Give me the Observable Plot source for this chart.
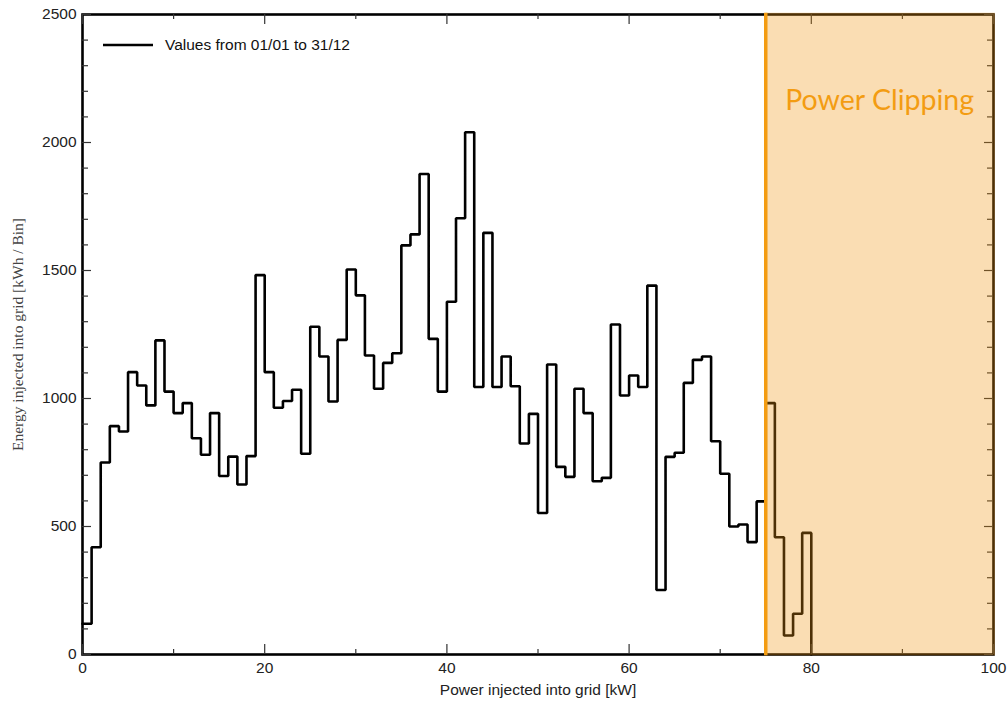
<!DOCTYPE html>
<html>
<head>
<meta charset="utf-8">
<script src="https://cdn.jsdelivr.net/npm/d3@7"></script>
<script src="https://cdn.jsdelivr.net/npm/@observablehq/plot@0.6"></script>
<style>
  body { margin: 0; background: #fff; }
  #chart svg { display: block; }
</style>
</head>
<body>
<div id="chart"></div>
<script>
// Energy per 1 kW power bin, bins starting at 0, 1, 2 … 79 kW
const binStart = d3.range(0, 80);
const energy = [
  120, 419, 750, 892, 871, 1103, 1051, 973, 1227, 1027,
  943, 982, 845, 780, 943, 697, 773, 664, 775, 1482,
  1103, 964, 990, 1034, 784, 1280, 1164, 988, 1229, 1504,
  1403, 1168, 1038, 1139, 1177, 1598, 1641, 1877, 1233, 1027,
  1378, 1704, 2040, 1045, 1647, 1045, 1164, 1048, 824, 940,
  553, 1133, 733, 694, 1038, 943, 677, 690, 1289, 1012,
  1090, 1045, 1441, 252, 772, 788, 1061, 1151, 1164, 833,
  706, 500, 508, 439, 598, 982, 458, 74, 159, 475
];
const binWidth = 1;

// Inverter clipping range
const clipStart = 75;
const clipEnd = 100;
const clipLabel = "Power Clipping";

// Axis ticks
const xLabelTicks = [0, 20, 40, 60, 80, 100];
const xMinorTicks = [10, 30, 50, 70, 90];
const yLabelTicks = [0, 500, 1000, 1500, 2000, 2500];
const yMinorTicks = d3.range(0, 2501, 100).filter(v => v % 500 !== 0);

const seriesName = "Values from 01/01 to 31/12";
const xTitle = "Power injected into grid [kW]";
const yTitle = "Energy injected into grid [kWh / Bin]";

// Step outline: each bin value runs to the next bin edge, then drops to zero
const steps = binStart.map((x, i) => ({x, y: energy[i]}));
steps.push({x: binStart[binStart.length - 1] + binWidth, y: 0});

const W = 1007, H = 702;
const mL = 82, mT = 14, mR = 14, mB = 48;
const innerW = W - mL - mR, innerH = H - mT - mB;

const sans = "'Liberation Sans', Arial, sans-serif";
const orange = "#F39C12";

// Inward tick marks on all four sides of the frame
function xTicks(values, len, side) {
  return Plot.tickX(values, {
    x: d => d, stroke: "#333", strokeWidth: 1.2,
    insetTop: side === "bottom" ? innerH - len : 0,
    insetBottom: side === "top" ? innerH - len : 0
  });
}
function yTicks(values, len, side) {
  return Plot.tickY(values, {
    y: d => d, stroke: "#333", strokeWidth: 1.2,
    insetRight: side === "left" ? innerW - len : 0,
    insetLeft: side === "right" ? innerW - len : 0
  });
}

// Legend entry in the upper-left corner of the frame
function legend(index, scales, values, dims) {
  const g = d3.create("svg:g");
  const y = dims.marginTop + 31;
  const x0 = dims.marginLeft + 21;
  g.append("line")
    .attr("x1", x0).attr("x2", x0 + 50)
    .attr("y1", y).attr("y2", y)
    .attr("stroke", "#000").attr("stroke-width", 2.6);
  g.append("text")
    .attr("x", x0 + 62).attr("y", y)
    .attr("dy", "0.35em")
    .attr("text-anchor", "start")
    .attr("font-family", sans).attr("font-size", 15.5)
    .attr("fill", "#111")
    .text(seriesName);
  return g.node();
}

const chart = Plot.plot({
  width: W,
  height: H,
  marginLeft: mL,
  marginTop: mT,
  marginRight: mR,
  marginBottom: mB,
  style: {background: "#fff", overflow: "visible"},
  x: {domain: [0, 100], axis: null},
  y: {domain: [0, 2500], axis: null},
  marks: [
    Plot.line(steps, {x: "x", y: "y", curve: "step-after", stroke: "#000", strokeWidth: 2.6, strokeLinejoin: "miter"}),
    Plot.frame({stroke: "#000", strokeWidth: 2.6}),
    xTicks(xLabelTicks, 10, "bottom"),
    xTicks(xLabelTicks, 10, "top"),
    xTicks(xMinorTicks, 5, "bottom"),
    xTicks(xMinorTicks, 5, "top"),
    yTicks(yLabelTicks, 9, "left"),
    yTicks(yLabelTicks, 9, "right"),
    yTicks(yMinorTicks, 6, "left"),
    yTicks(yMinorTicks, 6, "right"),
    Plot.axisX(xLabelTicks, {tickSize: 0, tickPadding: 7, tickFormat: d3.format("d"), fontSize: 15.5, fontFamily: sans, color: "#222", label: null}),
    Plot.axisY(yLabelTicks, {tickSize: 0, tickPadding: 6, tickFormat: d3.format("d"), fontSize: 15.5, fontFamily: sans, color: "#222", label: null}),
    Plot.text([xTitle], {frameAnchor: "bottom", dy: 36, lineAnchor: "middle", textAnchor: "middle", fontSize: 15.5, fontFamily: sans, fill: "#222"}),
    Plot.text([yTitle], {frameAnchor: "left", dx: -64, rotate: -90, textAnchor: "middle", lineAnchor: "middle", fontSize: 15.5, fontFamily: "'Liberation Serif', 'Times New Roman', serif", fill: "#444"}),
    legend,
    // Clipping zone overlaid on the histogram
    Plot.rect([{x1: clipStart, x2: clipEnd}], {x1: "x1", x2: "x2", fill: "rgb(240,150,20)", fillOpacity: 0.32, insetRight: -2, insetTop: -1.3, insetBottom: -1.3}),
    Plot.ruleX([clipStart], {stroke: orange, strokeWidth: 3.5, insetTop: -1.3, insetBottom: -1.3}),
    Plot.text([clipLabel], {x: (clipStart + clipEnd) / 2, frameAnchor: "top", dy: 86, lineAnchor: "middle", textAnchor: "middle", fontSize: 28.5, fontFamily: "Lato, 'Open Sans', sans-serif", fill: orange})
  ]
});

document.getElementById("chart").append(chart);
</script>
</body>
</html>
